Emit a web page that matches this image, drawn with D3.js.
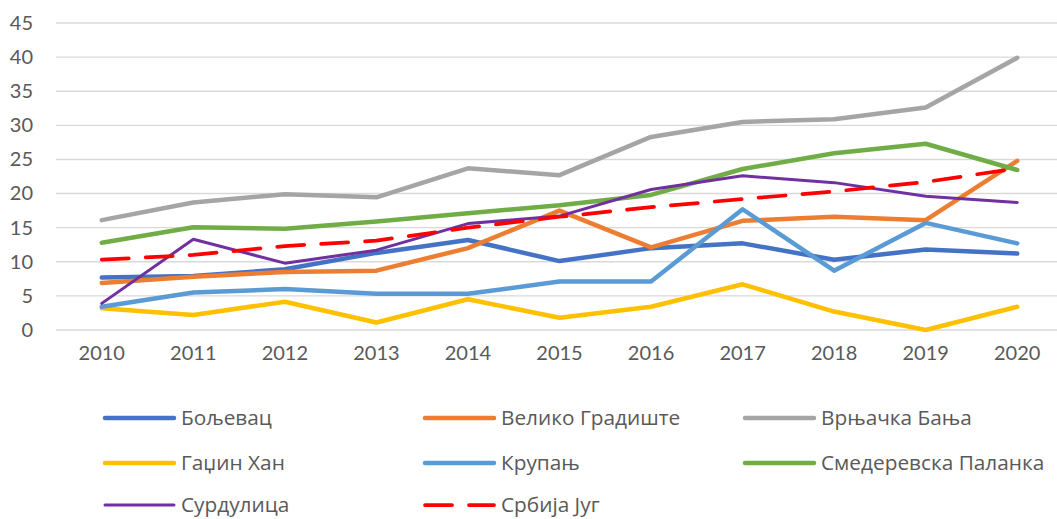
<!DOCTYPE html>
<html>
<head>
<meta charset="utf-8">
<script src="https://cdnjs.cloudflare.com/ajax/libs/d3/7.8.5/d3.min.js"></script>
<style>
  html, body { margin: 0; padding: 0; background: #fff; }
  svg { display: block; }
  text { fill: #595959; }
</style>
</head>
<body>
<svg id="chart" width="1057" height="519"></svg>
<script>
var years = [2010, 2011, 2012, 2013, 2014, 2015, 2016, 2017, 2018, 2019, 2020];
var yTicks = [0, 5, 10, 15, 20, 25, 30, 35, 40, 45];

var names = ["Бољевац", "Велико Градиште", "Врњачка Бања", "Гаџин Хан", "Крупањ",
  "Смедеревска Паланка", "Сурдулица", "Србија Југ"];

var boljevac = [7.7, 7.9, 8.9, 11.3, 13.2, 10.1, 12.0, 12.7, 10.3, 11.8, 11.2];
var velikoGradiste = [6.9, 7.8, 8.5, 8.7, 12.0, 17.5, 12.1, 16.0, 16.6, 16.1, 24.8];
var vrnjackaBanja = [16.1, 18.7, 19.9, 19.45, 23.7, 22.7, 28.3, 30.5, 30.9, 32.6, 39.9];
var gadzinHan = [3.2, 2.2, 4.15, 1.1, 4.5, 1.8, 3.4, 6.7, 2.7, 0.0, 3.4];
var krupanj = [3.4, 5.5, 6.0, 5.3, 5.3, 7.1, 7.1, 17.7, 8.7, 15.7, 12.7];
var smederevskaPalanka = [12.8, 15.05, 14.85, 15.9, 17.1, 18.3, 19.8, 23.6, 25.9, 27.3, 23.45];
var surdulica = [3.9, 13.3, 9.8, 11.7, 15.6, 16.7, 20.6, 22.6, 21.6, 19.6, 18.7];
var srbijaJug = [10.3, 11.0, 12.3, 13.1, 15.0, 16.6, 18.0, 19.2, 20.3, 21.7, 23.7];

var seriesValues = [boljevac, velikoGradiste, vrnjackaBanja, gadzinHan, krupanj,
  smederevskaPalanka, surdulica, srbijaJug];
var colors = ["#4472C4", "#ED7D31", "#A5A5A5", "#FFC000", "#5B9BD5", "#70AD47", "#7030A0", "#FF0000"];
var widths = [4.5, 4.5, 4.5, 4.5, 4.5, 4.5, 3, 3.75];
var dashes = [null, null, null, null, null, null, null, "27,17"];

var series = names.map(function(n, i) {
  return { name: n, values: seriesValues[i], color: colors[i], width: widths[i], dash: dashes[i] };
});

var svg = d3.select("#chart");

var x = d3.scaleBand().domain(years).range([56, 1063]).paddingInner(0).paddingOuter(0);
var y = d3.scaleLinear().domain([0, 45]).range([330, 23]);

function cx(d) { return x(d) + x.bandwidth() / 2; }

// gridlines
svg.append("g")
  .selectAll("line")
  .data(yTicks)
  .enter()
  .append("line")
  .attr("x1", 56)
  .attr("x2", 1063)
  .attr("y1", function(d) { return y(d); })
  .attr("y2", function(d) { return y(d); })
  .attr("stroke", "#d9d9d9")
  .attr("stroke-width", 1.4);

// y axis labels
var yAxis = svg.append("g")
  .attr("transform", "translate(33,0)")
  .call(d3.axisLeft(y).tickValues(yTicks).tickSize(0).tickPadding(0));
yAxis.select(".domain").remove();
yAxis.selectAll("text")
  .style("font-size", "20px")
  .style("fill", "#595959")
  .style("font-family", "Lato, 'Open Sans', sans-serif");

// x axis labels
var xAxis = svg.append("g")
  .attr("transform", "translate(0,346)")
  .call(d3.axisBottom(x).tickSize(0).tickPadding(0));
xAxis.select(".domain").remove();
xAxis.selectAll("text")
  .style("font-size", "20px")
  .style("fill", "#595959")
  .style("font-family", "Lato, 'Open Sans', sans-serif");

var line = d3.line()
  .x(function(d, i) { return cx(years[i]); })
  .y(function(d) { return y(d); });

svg.append("g")
  .selectAll("path")
  .data(series)
  .enter()
  .append("path")
  .attr("d", function(d) { return line(d.values); })
  .attr("fill", "none")
  .attr("stroke", function(d) { return d.color; })
  .attr("stroke-width", function(d) { return d.width; })
  .attr("stroke-linejoin", "round")
  .attr("stroke-linecap", "round")
  .attr("stroke-dasharray", function(d) { return d.dash; });

// legend
var colX = [103, 423, 743];
var rowY = [418, 463, 505];

var legend = svg.append("g")
  .selectAll("g")
  .data(series)
  .enter()
  .append("g")
  .attr("transform", function(d, i) {
    return "translate(" + colX[i % 3] + "," + rowY[Math.floor(i / 3)] + ")";
  });

legend.append("line")
  .attr("x1", 2)
  .attr("x2", 71)
  .attr("y1", 0)
  .attr("y2", 0)
  .attr("stroke", function(d) { return d.color; })
  .attr("stroke-width", function(d) { return d.width; })
  .attr("stroke-linecap", "round")
  .attr("stroke-dasharray", function(d) { return d.dash; });

legend.append("text")
  .attr("x", 78)
  .attr("y", 0)
  .attr("dy", "0.35em")
  .style("font-size", "20.8px")
  .style("fill", "#595959")
  .style("font-family", "'Open Sans', Lato, sans-serif")
  .text(function(d) { return d.name; });
</script>
</body>
</html>
